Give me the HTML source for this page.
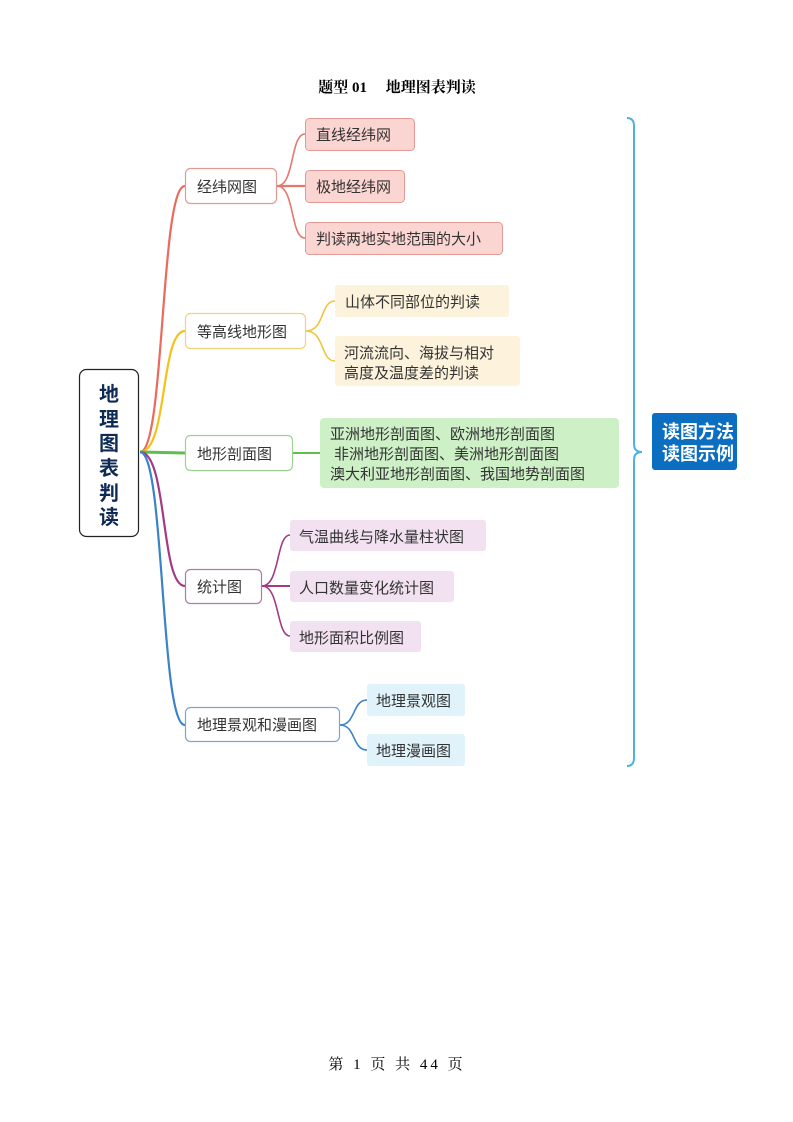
<!DOCTYPE html>
<html><head><meta charset="utf-8"><style>
html,body{margin:0;padding:0;background:#fff;}
svg{display:block;}
text{font-family:"Liberation Sans","Noto Sans CJK SC",sans-serif;}
</style></head><body>
<svg width="793" height="1122" viewBox="0 0 793 1122" xmlns="http://www.w3.org/2000/svg">
<text x="397" y="92" text-anchor="middle" font-size="15" font-weight="bold" style="font-family:'Liberation Serif','Noto Serif CJK SC',serif" fill="#000">题型 01　 地理图表判读</text>

<g fill="none" stroke-width="2.2">
<path d="M140,452 C165,452 160,186 185,186" stroke="#ea6a5c"/>
<path d="M140,452 C168,452 160,331 185,331" stroke="#f5c21b"/>
<path d="M140,452 L185,453" stroke="#5cc04b" stroke-width="3"/>
<path d="M140,452 C168,452 160,586 185,586" stroke="#a23a86"/>
<path d="M140,452 C165,452 160,725 185,725" stroke="#3b82c9"/>
</g>
<g fill="none" stroke-width="1.6">
<path d="M277,186 C295,186 290,134 305,134" stroke="#e5776c"/>
<path d="M277,186 L305,186" stroke="#e5776c" stroke-width="2.2"/>
<path d="M277,186 C295,186 290,238 305,238" stroke="#e5776c"/>
<path d="M306,331 C325,331 320,301 335,301" stroke="#f0c53a"/>
<path d="M306,331 C325,331 320,361 335,361" stroke="#f0c53a"/>
<path d="M293,453 L320,453" stroke="#5cc04b" stroke-width="2"/>
<path d="M262,586 C280,586 276,535 290,535" stroke="#a23a86"/>
<path d="M262,586 L290,586" stroke="#a23a86" stroke-width="2"/>
<path d="M262,586 C280,586 276,636 290,636" stroke="#a23a86"/>
<path d="M340,725 C356,725 352,700 367,700" stroke="#3b82c9"/>
<path d="M340,725 C356,725 352,750 367,750" stroke="#3b82c9"/>
</g>

<rect x="79.5" y="369.5" width="59" height="167" rx="7" fill="#fff" stroke="#222" stroke-width="1.2"/>
<g font-size="20" font-weight="bold" fill="#0e2a55" text-anchor="middle">
<text x="109" y="401">地</text><text x="109" y="426">理</text><text x="109" y="450">图</text>
<text x="109" y="475">表</text><text x="109" y="500">判</text><text x="109" y="524">读</text>
</g>

<g fill="#fff" stroke-width="1.2">
<rect x="185.5" y="168.5" width="91" height="35" rx="5" stroke="#e39a95"/>
<rect x="185.5" y="313.5" width="120" height="35" rx="5" stroke="#f2d27a"/>
<rect x="185.5" y="435.5" width="107" height="35" rx="5" stroke="#9bd492"/>
<rect x="185.5" y="569.5" width="76" height="34" rx="5" stroke="#b07aa5"/>
<rect x="185.5" y="707.5" width="154" height="34" rx="5" stroke="#7aa6d6"/>
</g>
<g font-size="15" fill="#333">
<text x="197" y="192">经纬网图</text>
<text x="197" y="337">等高线地形图</text>
<text x="197" y="459">地形剖面图</text>
<text x="197" y="592">统计图</text>
<text x="197" y="730">地理景观和漫画图</text>
</g>

<g stroke-width="1">
<rect x="305.5" y="118.5" width="109" height="32" rx="4" fill="#fbd5d2" stroke="#e39a95"/>
<rect x="305.5" y="170.5" width="99" height="32" rx="4" fill="#fbd5d2" stroke="#e39a95"/>
<rect x="305.5" y="222.5" width="197" height="32" rx="4" fill="#fbd5d2" stroke="#e39a95"/>
<rect x="335" y="285" width="174" height="32" rx="3" fill="#fdf3dc"/>
<rect x="335" y="336" width="185" height="50" rx="3" fill="#fdf3dc"/>
<rect x="320" y="418" width="299" height="70" rx="4" fill="#cdf0c6"/>
<rect x="290" y="520" width="196" height="31" rx="3" fill="#f2e1f0"/>
<rect x="290" y="571" width="164" height="31" rx="3" fill="#f2e1f0"/>
<rect x="290" y="621" width="131" height="31" rx="3" fill="#f2e1f0"/>
<rect x="367" y="684" width="98" height="32" rx="3" fill="#e0f3fb"/>
<rect x="367" y="734" width="98" height="32" rx="3" fill="#e0f3fb"/>
</g>
<g font-size="15" fill="#333">
<text x="316" y="140">直线经纬网</text>
<text x="316" y="192">极地经纬网</text>
<text x="316" y="244">判读两地实地范围的大小</text>
<text x="345" y="307">山体不同部位的判读</text>
<text x="344" y="358">河流流向、海拔与相对</text>
<text x="344" y="378">高度及温度差的判读</text>
<text x="330" y="439">亚洲地形剖面图、欧洲地形剖面图</text>
<text x="334" y="459">非洲地形剖面图、美洲地形剖面图</text>
<text x="330" y="479">澳大利亚地形剖面图、我国地势剖面图</text>
<text x="299" y="542">气温曲线与降水量柱状图</text>
<text x="299" y="593">人口数量变化统计图</text>
<text x="299" y="643">地形面积比例图</text>
<text x="376" y="706">地理景观图</text>
<text x="376" y="756">地理漫画图</text>
</g>

<path d="M627,118 Q634,118 634,126 L634,444 Q634,452 642,452 Q634,452 634,460 L634,758 Q634,766 627,766" fill="none" stroke="#4ab3e3" stroke-width="2"/>
<rect x="652" y="413" width="85" height="57" rx="3" fill="#0b6ec0"/>
<g font-size="18" fill="#fff" font-weight="bold">
<text x="662" y="438">读图方法</text>
<text x="662" y="460">读图示例</text>
</g>

<text x="397" y="1069" text-anchor="middle" font-size="15" letter-spacing="3" style="font-family:'Liberation Serif','Noto Serif CJK SC',serif" fill="#000">第 1 页 共 44 页</text>
</svg>
</body></html>
